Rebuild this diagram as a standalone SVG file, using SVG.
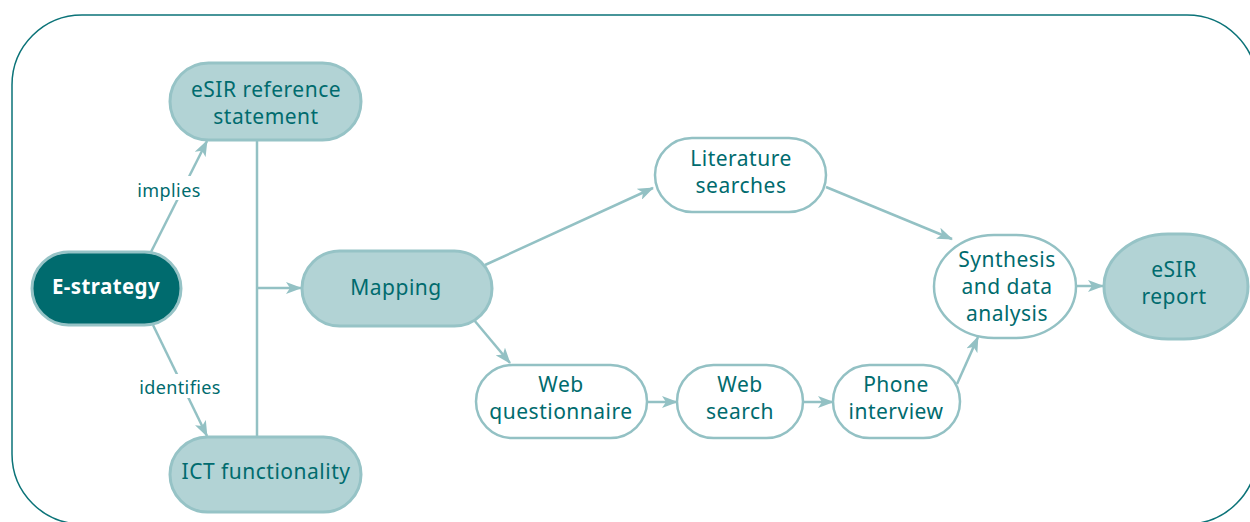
<svg xmlns="http://www.w3.org/2000/svg" width="1250" height="522" viewBox="0 0 1250 522">
<defs>
<marker id="ah" viewBox="0 0 16 12" refX="15" refY="6" markerWidth="16" markerHeight="12" markerUnits="userSpaceOnUse" orient="auto">
<path d="M0,0 L16,6 L0,12 L4,6 Z" fill="#93c1c4"/>
</marker>
<style>
.frame{fill:none;stroke:#0b7378;stroke-width:1.5}
.main{fill:#b2d3d5;stroke:#96c3c6;stroke-width:3}
.dark{fill:#006b6e;stroke:#96c3c6;stroke-width:3}
.sub{fill:#ffffff;stroke:#93c1c4;stroke-width:2.5}
.t{font-family:"Noto Sans","Open Sans",sans-serif;font-size:21px;letter-spacing:0.5px;fill:#006b6e;text-anchor:middle}
.tw{font-family:"Noto Sans","Open Sans",sans-serif;font-size:20.5px;letter-spacing:0.4px;font-weight:bold;fill:#ffffff;text-anchor:middle}
.lbl{font-family:"Noto Sans","Open Sans",sans-serif;font-size:18px;letter-spacing:0.4px;fill:#006b6e;text-anchor:middle}
.c{fill:none;stroke:#93c1c4;stroke-width:2.5}
</style>
</defs>
<rect width="1250" height="522" fill="#ffffff"/>
<rect class="frame" x="12" y="15" width="1245" height="509" rx="70" ry="70"/>
<g id="connectors">
<line class="c" x1="151" y1="252" x2="207" y2="141" marker-end="url(#ah)"/>
<line class="c" x1="153" y1="325" x2="207" y2="436" marker-end="url(#ah)"/>
<line class="c" x1="257" y1="140" x2="257" y2="437"/>
<line class="c" x1="257" y1="288" x2="301" y2="288" marker-end="url(#ah)"/>
<line class="c" x1="485" y1="265" x2="653" y2="188" marker-end="url(#ah)"/>
<line class="c" x1="474" y1="320" x2="510" y2="363" marker-end="url(#ah)"/>
<line class="c" x1="647" y1="402" x2="677" y2="402" marker-end="url(#ah)"/>
<line class="c" x1="803" y1="402" x2="833" y2="402" marker-end="url(#ah)"/>
<line class="c" x1="957" y1="384" x2="978" y2="337" marker-end="url(#ah)"/>
<line class="c" x1="826" y1="187" x2="952" y2="239" marker-end="url(#ah)"/>
<line class="c" x1="1076" y1="286" x2="1103" y2="286" marker-end="url(#ah)"/>
<rect x="133" y="176" width="72" height="24" fill="#ffffff"/>
<text class="lbl" x="169" y="197">implies</text>
<rect x="132" y="374" width="96" height="24" fill="#ffffff"/>
<text class="lbl" x="180" y="394">identifies</text>
</g>
<g id="esir-ref">
<rect class="main" x="170" y="63" width="191" height="77" rx="38.5"/>
<text class="t" x="266" y="97">eSIR reference</text>
<text class="t" x="266" y="124">statement</text>
</g>
<g id="estrategy">
<rect class="dark" x="32" y="252" width="149" height="73" rx="36.5"/>
<text class="tw" x="106" y="294">E-strategy</text>
</g>
<g id="ict">
<rect class="main" x="170" y="437" width="191" height="75" rx="37.5"/>
<text class="t" x="266" y="479">ICT functionality</text>
</g>
<g id="mapping">
<rect class="main" x="302" y="251" width="190" height="75" rx="37.5"/>
<text class="t" x="396" y="295">Mapping</text>
</g>
<g id="literature">
<rect class="sub" x="655" y="138" width="171" height="74" rx="37"/>
<text class="t" x="741" y="166">Literature</text>
<text class="t" x="741" y="193">searches</text>
</g>
<g id="webq">
<rect class="sub" x="476" y="365" width="171" height="73" rx="36.5"/>
<text class="t" x="561" y="392">Web</text>
<text class="t" x="561" y="419">questionnaire</text>
</g>
<g id="websearch">
<rect class="sub" x="677" y="365" width="126" height="73" rx="36.5"/>
<text class="t" x="740" y="392">Web</text>
<text class="t" x="740" y="419">search</text>
</g>
<g id="phone">
<rect class="sub" x="833" y="365" width="127" height="73" rx="36.5"/>
<text class="t" x="896" y="392">Phone</text>
<text class="t" x="896" y="419">interview</text>
</g>
<g id="synthesis">
<rect class="sub" x="934" y="235" width="142" height="103" rx="60" ry="51.5"/>
<text class="t" x="1007" y="267">Synthesis</text>
<text class="t" x="1007" y="294">and data</text>
<text class="t" x="1007" y="321">analysis</text>
</g>
<g id="esir-report">
<rect class="main" x="1104" y="234" width="144" height="105" rx="64" ry="52.5"/>
<text class="t" x="1174" y="277">eSIR</text>
<text class="t" x="1174" y="304">report</text>
</g>
</svg>
